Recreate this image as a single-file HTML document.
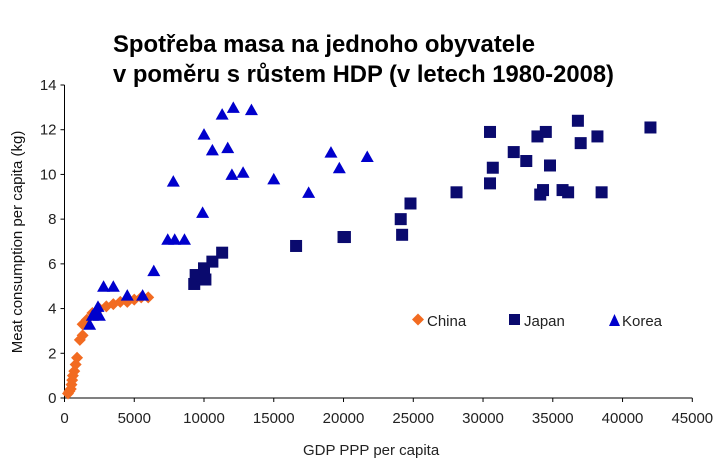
<!DOCTYPE html>
<html><head><meta charset="utf-8"><style>
body{margin:0;background:#fff;}
svg text{font-family:"Liberation Sans",Arial,sans-serif;}
</style></head><body>
<svg id="chart" width="723" height="463" xmlns="http://www.w3.org/2000/svg">
<text x="113" y="52" font-size="24" font-weight="bold" fill="#000" textLength="422" lengthAdjust="spacingAndGlyphs">Spotřeba masa na jednoho obyvatele</text>
<text x="113" y="82" font-size="24" font-weight="bold" fill="#000" textLength="501" lengthAdjust="spacingAndGlyphs">v poměru s růstem HDP (v letech 1980-2008)</text>
<g id="axes"></g>
<g id="marks"></g>
<g id="legend">
<path d="M418,313.5 L424,319.5 L418,325.5 L412,319.5Z" fill="#f26b21"/>
<text x="427" y="326" font-size="15" fill="#222">China</text>
<rect x="509" y="314" width="11" height="11" fill="#0a0a6e"/>
<text x="524" y="326" font-size="15" fill="#222">Japan</text>
<path d="M609,326 L620,326 L614.5,314Z" fill="#0000cc"/>
<text x="622" y="326" font-size="15" fill="#222">Korea</text>
</g>
<text x="303" y="455" font-size="15" fill="#222">GDP PPP per capita</text>
<text transform="translate(22,242) rotate(-90)" text-anchor="middle" font-size="15" fill="#111">Meat consumption per capita (kg)</text>
</svg>
<script>
const xTicks=[0,5000,10000,15000,20000,25000,30000,35000,40000,45000];
const yTicks=[0,2,4,6,8,10,12,14];
const chinaX=[250,350,450,500,550,600,700,800,900,1100,1300,1300,1600,2000,2500,3000,3500,4000,4500,5000,5500,6000];
const chinaY=[0.2,0.3,0.4,0.6,0.8,1.0,1.2,1.5,1.8,2.6,2.8,3.3,3.5,3.8,4.0,4.1,4.2,4.3,4.3,4.4,4.5,4.5];
const japanX=[9300,9400,9900,10000,10100,10600,11300,16600,20000,20100,24100,24200,24800,28100,30500,30500,30700,32200,33100,33900,34500,34100,34300,34800,35700,36100,36800,37000,38200,38500,42000];
const japanY=[5.1,5.5,5.4,5.8,5.3,6.1,6.5,6.8,7.2,7.2,8.0,7.3,8.7,9.2,9.6,11.9,10.3,11.0,10.6,11.7,11.9,9.1,9.3,10.4,9.3,9.2,12.4,11.4,11.7,9.2,12.1];
const koreaX=[1800,2000,2200,2400,2500,2800,3500,4500,5600,6400,7400,7900,8600,7800,9900,10000,10600,11300,12100,11700,12000,12800,13400,15000,17500,19100,19700,21700];
const koreaY=[3.3,3.7,3.8,4.1,3.7,5.0,5.0,4.6,4.6,5.7,7.1,7.1,7.1,9.7,8.3,11.8,11.1,12.7,13.0,11.2,10.0,10.1,12.9,9.8,9.2,11.0,10.3,10.8];
const X0=64.5,X1=692.3,Y0=398,Y1=85;
const sx=v=>X0+(X1-X0)*v/45000, sy=v=>Y0-(Y0-Y1)*v/14;
const NS="http://www.w3.org/2000/svg";
const axes=document.getElementById('axes'), marks=document.getElementById('marks');
function mk(tag,attrs,parent){const e=document.createElementNS(NS,tag);for(const k in attrs)e.setAttribute(k,attrs[k]);parent.appendChild(e);return e;}
const xl=mk('line',{x1:X0,y1:Y0,x2:X1,y2:Y0,stroke:'#000','stroke-width':1},axes);


const yl=mk('line',{x1:X0,y1:Y0,x2:X0,y2:Y1,stroke:'#000','stroke-width':1},axes);


xTicks.forEach(t=>{
  const tk=mk('line',{x1:sx(t),y1:Y0,x2:sx(t),y2:Y0+4,stroke:'#000'},axes);
  
  
  const tx=mk('text',{x:sx(t),y:Y0+25,'text-anchor':'middle','font-size':15,fill:'#222'},axes);
  tx.textContent=t;
  
  
});
yTicks.forEach(t=>{
  const tk=mk('line',{x1:X0-4,y1:sy(t),x2:X0,y2:sy(t),stroke:'#000'},axes);
  
  
  const tx=mk('text',{x:X0-8,y:sy(t)+5,'text-anchor':'end','font-size':15,fill:'#222'},axes);
  tx.textContent=t;
  
  
});
chinaX.forEach((v,i)=>{const x=sx(v),y=sy(chinaY[i]);
  const p=mk('path',{d:`M${x},${y-6}L${x+6},${y}L${x},${y+6}L${x-6},${y}Z`,fill:'#f26b21'},marks);
  
  });
japanX.forEach((v,i)=>{const x=sx(v),y=sy(japanY[i]);
  const r=mk('rect',{x:x-6,y:y-6,width:12,height:12,fill:'#0a0a6e'},marks);
  
  });
koreaX.forEach((v,i)=>{const x=sx(v),y=sy(koreaY[i]);
  const p=mk('path',{d:`M${x-6.5},${y+5.5}L${x+6.5},${y+5.5}L${x},${y-6}Z`,fill:'#0000cc'},marks);
  
  });
</script>
</body></html>
